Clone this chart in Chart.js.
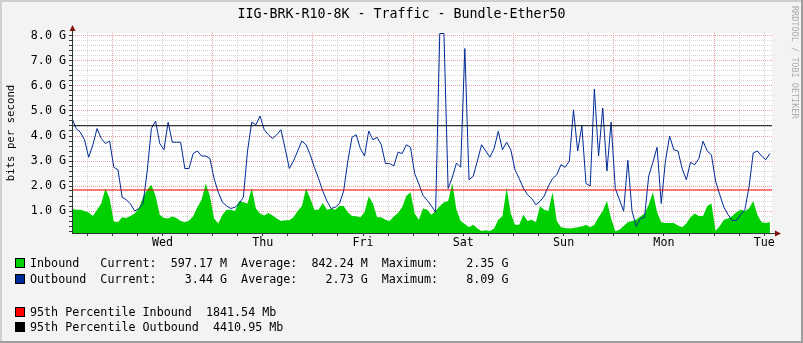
<!DOCTYPE html>
<html>
<head>
<meta charset="utf-8">
<script src="https://cdn.jsdelivr.net/npm/chart.js@4.4.1/dist/chart.umd.min.js"></script>
<style>
  html, body { margin: 0; padding: 0; background: #f3f3f3; }
  canvas { display: block; }
</style>
</head>
<body>
<canvas id="traffic-chart" width="803" height="343"></canvas>
<script>
// One sample per hour, starting at the left edge of the graph (Tue afternoon). Values in G bits/s.
const inbound = [
  1.08, 1.05, 1.05, 1.00, 0.94, 0.80, 1.05, 1.30, 1.90, 1.50,
  0.58, 0.55, 0.75, 0.72, 0.80, 0.90, 1.10, 1.55, 1.85, 2.05,
  1.60, 0.85, 0.72, 0.70, 0.78, 0.72, 0.60, 0.55, 0.62, 0.79,
  1.15, 1.45, 2.10, 1.60, 0.70, 0.50, 0.85, 1.05, 1.05, 1.00,
  1.40, 1.35, 1.30, 1.92, 1.10, 0.90, 0.82, 0.92, 0.82, 0.70,
  0.60, 0.63, 0.63, 0.75, 1.00, 1.19, 1.90, 1.50, 1.05, 1.05,
  1.32, 1.05, 1.10, 1.05, 1.20, 1.20, 0.95, 0.80, 0.79, 0.75,
  0.95, 1.59, 1.30, 0.75, 0.75, 0.65, 0.60, 0.78, 0.92, 1.15,
  1.60, 1.75, 0.90, 0.65, 1.10, 1.05, 0.85, 1.00, 1.19, 1.35,
  1.40, 2.10, 1.05, 0.60, 0.48, 0.35, 0.45, 0.30, 0.20, 0.23,
  0.20, 0.30, 0.65, 0.79, 1.92, 0.90, 0.45, 0.45, 0.85, 0.60,
  0.65, 0.55, 1.19, 1.05, 1.00, 1.75, 0.60, 0.35, 0.32, 0.30,
  0.32, 0.35, 0.38, 0.45, 0.35, 0.45, 0.75, 1.00, 1.40, 0.70,
  0.19, 0.25, 0.40, 0.55, 0.60, 0.65, 0.78, 0.90, 1.25, 1.75,
  0.95, 0.55, 0.52, 0.52, 0.52, 0.42, 0.35, 0.50, 0.75, 0.90,
  0.80, 0.80, 1.20, 1.30, 0.20, 0.40, 0.65, 0.70, 0.80, 0.95,
  1.05, 1.00, 1.10, 1.40, 0.85, 0.55, 0.52, 0.55
];
const outbound = [
  4.70, 4.30, 4.15, 3.85, 3.15, 3.65, 4.30, 3.90, 3.70, 3.80,
  2.75, 2.65, 1.55, 1.45, 1.28, 1.00, 1.10, 1.30, 2.60, 4.30,
  4.60, 3.70, 3.45, 4.55, 3.75, 3.75, 3.75, 2.70, 2.70, 3.30,
  3.40, 3.20, 3.20, 3.10, 2.30, 1.75, 1.35, 1.20, 1.10, 1.15,
  1.30, 1.55, 3.40, 4.55, 4.45, 4.80, 4.25, 4.05, 3.90, 4.05,
  4.25, 3.50, 2.70, 3.00, 3.40, 3.80, 3.65, 3.25, 2.75, 2.30,
  1.80, 1.40, 1.10, 1.15, 1.30, 1.80, 3.00, 3.95, 4.05, 3.50,
  3.20, 4.20, 3.85, 3.95, 3.65, 2.90, 2.90, 2.80, 3.35, 3.30,
  3.65, 3.55, 2.50, 2.08, 1.62, 1.43, 1.20, 0.95, 8.10, 8.10,
  1.90, 2.35, 2.92, 2.75, 7.50, 2.25, 2.39, 3.00, 3.65, 3.40,
  3.15, 3.50, 4.19, 3.45, 3.75, 3.45, 2.65, 2.30, 1.92, 1.65,
  1.50, 1.25, 1.39, 1.60, 2.00, 2.30, 2.45, 2.85, 2.75, 3.00,
  5.05, 3.40, 4.40, 2.10, 2.00, 5.88, 3.20, 5.12, 2.60, 4.55,
  1.90, 1.45, 0.99, 3.03, 1.00, 0.39, 0.70, 0.75, 2.40, 2.95,
  3.55, 1.30, 3.00, 4.00, 3.45, 3.40, 2.70, 2.25, 2.95, 2.85,
  3.10, 3.79, 3.40, 3.25, 2.20, 1.65, 1.15, 0.85, 0.62, 0.62,
  0.85, 1.05, 1.95, 3.32, 3.40, 3.20, 3.05, 3.30
];
const pct95In = 1.84154;
const pct95Out = 4.41095;

const dayLabels = ['Wed', 'Thu', 'Fri', 'Sat', 'Sun', 'Mon', 'Tue'];
const firstMidnight = 9.64;   // hours after the left edge
const spanHours = 167.5;
const yMin = 0.12, yMax = 8.12;

const titleText = 'IIG-BRK-R10-8K - Traffic - Bundle-Ether50';
const legendRows = [
  { color: '#00cf00', text: 'Inbound   Current:  597.17 M  Average:  842.24 M  Maximum:    2.35 G' },
  { color: '#002a97', text: 'Outbound  Current:    3.44 G  Average:    2.73 G  Maximum:    8.09 G' },
  { color: '#ff0000', text: '95th Percentile Inbound  1841.54 Mb' },
  { color: '#000000', text: '95th Percentile Outbound  4410.95 Mb' }
];
const legendY = [263, 279, 312, 327];

const MONO = "'DejaVu Sans Mono', monospace";
const gridMinor = '#d6d6d6';
const gridMajor = '#eaa0a0';
const axisColor = '#2c3a36';
const arrowColor = '#7f1010';

const hours = inbound.map((_, i) => i);
const isWhole = v => Math.abs(v - Math.round(v)) < 1e-6;

const rrdDecor = {
  id: 'rrdDecor',
  beforeDraw(chart) {
    const { ctx, chartArea: a, width, height } = chart;
    ctx.save();
    ctx.fillStyle = '#f3f3f3';
    ctx.fillRect(0, 0, width, height);
    ctx.fillStyle = '#ffffff';
    ctx.fillRect(a.left, a.top, a.right - a.left, a.bottom - a.top);
    ctx.restore();
  },
  afterDraw(chart) {
    const { ctx, chartArea: a, width, height } = chart;
    ctx.save();

    // frame
    ctx.fillStyle = '#cfcfcf';
    ctx.fillRect(0, 0, width, 2);
    ctx.fillRect(0, 0, 2, height);
    ctx.fillStyle = '#9e9e9e';
    ctx.fillRect(width - 2, 0, 2, height);
    ctx.fillRect(0, height - 2, width, 2);

    // axis lines drawn solid over the dotted grid, plus arrows
    ctx.strokeStyle = axisColor;
    ctx.lineWidth = 1;
    ctx.beginPath();
    ctx.moveTo(a.left, a.bottom + 0.5);
    ctx.lineTo(a.right + 4, a.bottom + 0.5);
    ctx.moveTo(a.left + 0.5, a.bottom);
    ctx.lineTo(a.left + 0.5, a.top - 3);
    ctx.stroke();
    ctx.fillStyle = arrowColor;
    ctx.beginPath();
    ctx.moveTo(a.right + 3, a.bottom - 2.5);
    ctx.lineTo(a.right + 9, a.bottom + 0.5);
    ctx.lineTo(a.right + 3, a.bottom + 3.5);
    ctx.closePath();
    ctx.fill();
    ctx.beginPath();
    ctx.moveTo(a.left - 2.5, a.top - 2);
    ctx.lineTo(a.left + 0.5, a.top - 8);
    ctx.lineTo(a.left + 3.5, a.top - 2);
    ctx.closePath();
    ctx.fill();

    // title
    ctx.fillStyle = '#000';
    ctx.font = '13.3px ' + MONO;
    ctx.textAlign = 'center';
    ctx.textBaseline = 'middle';
    ctx.fillText(titleText, width / 2, 15);

    // watermark
    ctx.save();
    ctx.translate(794, 6);
    ctx.rotate(Math.PI / 2);
    ctx.fillStyle = '#ababab';
    ctx.font = '8.5px ' + MONO;
    ctx.textAlign = 'left';
    ctx.fillText('RRDTOOL / TOBI OETIKER', 0, 0);
    ctx.restore();

    // legend
    ctx.font = '11.7px ' + MONO;
    ctx.textAlign = 'left';
    legendRows.forEach((row, i) => {
      const y = legendY[i];
      ctx.fillStyle = row.color;
      ctx.fillRect(15, y - 5, 10, 10);
      ctx.strokeStyle = '#000';
      ctx.strokeRect(15.5, y - 4.5, 9, 9);
      ctx.fillStyle = '#000';
      ctx.fillText(row.text, 30, y + 0.5);
    });
    ctx.restore();
  }
};

new Chart(document.getElementById('traffic-chart'), {
  type: 'line',
  data: {
    datasets: [
      {
        label: '95th Percentile Outbound',
        data: [{ x: 0, y: pct95Out }, { x: spanHours, y: pct95Out }],
        borderColor: '#000000', borderWidth: 1, pointRadius: 0, order: 1
      },
      {
        label: '95th Percentile Inbound',
        data: [{ x: 0, y: pct95In }, { x: spanHours, y: pct95In }],
        borderColor: '#ff0000', borderWidth: 1, pointRadius: 0, order: 2
      },
      {
        label: 'Outbound',
        data: hours.map(h => ({ x: h, y: outbound[h] })),
        borderColor: '#002a97', borderWidth: 1, pointRadius: 0, tension: 0, order: 3
      },
      {
        label: 'Inbound',
        data: hours.map(h => ({ x: h, y: inbound[h] })),
        borderWidth: 0, borderColor: 'rgba(0,0,0,0)', backgroundColor: '#00cf00',
        fill: 'start', pointRadius: 0, tension: 0, order: 4
      }
    ]
  },
  options: {
    responsive: false,
    animation: false,
    devicePixelRatio: 1,
    layout: { padding: { left: 0, top: 33, right: 31, bottom: 0 } },
    plugins: {
      legend: { display: false },
      title: { display: false },
      tooltip: { enabled: false }
    },
    scales: {
      x: {
        type: 'linear',
        min: 0,
        max: spanHours,
        afterFit(scale) { scale.height = 110; },
        afterBuildTicks(scale) {
          const t = [];
          for (let v = firstMidnight - 6; v < spanHours; v += 6) t.push({ value: v });
          scale.ticks = t;
        },
        ticks: {
          autoSkip: false,
          maxRotation: 0,
          padding: 0,
          color: '#000',
          font: { family: MONO, size: 11.7 },
          callback(value) {
            const d = (value - firstMidnight - 12) / 24;
            return isWhole(d) && d >= 0 ? dayLabels[Math.round(d)] : '';
          }
        },
        grid: {
          color: ctx => isWhole((ctx.tick.value - firstMidnight) / 24) ? gridMajor : gridMinor,
          tickColor: axisColor,
          tickLength: 3
        },
        border: { color: axisColor, width: 1, dash: [1, 1] }
      },
      y: {
        min: yMin,
        max: yMax,
        afterFit(scale) { scale.width = 72; },
        afterBuildTicks(scale) {
          const t = [];
          for (let k = 1; k <= 40; k++) t.push({ value: k / 5 });
          scale.ticks = t;
        },
        ticks: {
          autoSkip: false,
          padding: 3,
          color: '#000',
          font: { family: MONO, size: 11.7 },
          callback: value => isWhole(value) ? value.toFixed(1) + ' G' : ''
        },
        grid: {
          color: ctx => isWhole(ctx.tick.value) ? gridMajor : gridMinor,
          tickColor: axisColor,
          tickLength: 3
        },
        border: { color: axisColor, width: 1, dash: [1, 1] },
        title: {
          display: true,
          text: 'bits per second',
          color: '#000',
          font: { family: MONO, size: 10.7 },
          padding: { top: 5, bottom: 0 }
        }
      }
    }
  },
  plugins: [rrdDecor]
});
</script>
</body>
</html>
